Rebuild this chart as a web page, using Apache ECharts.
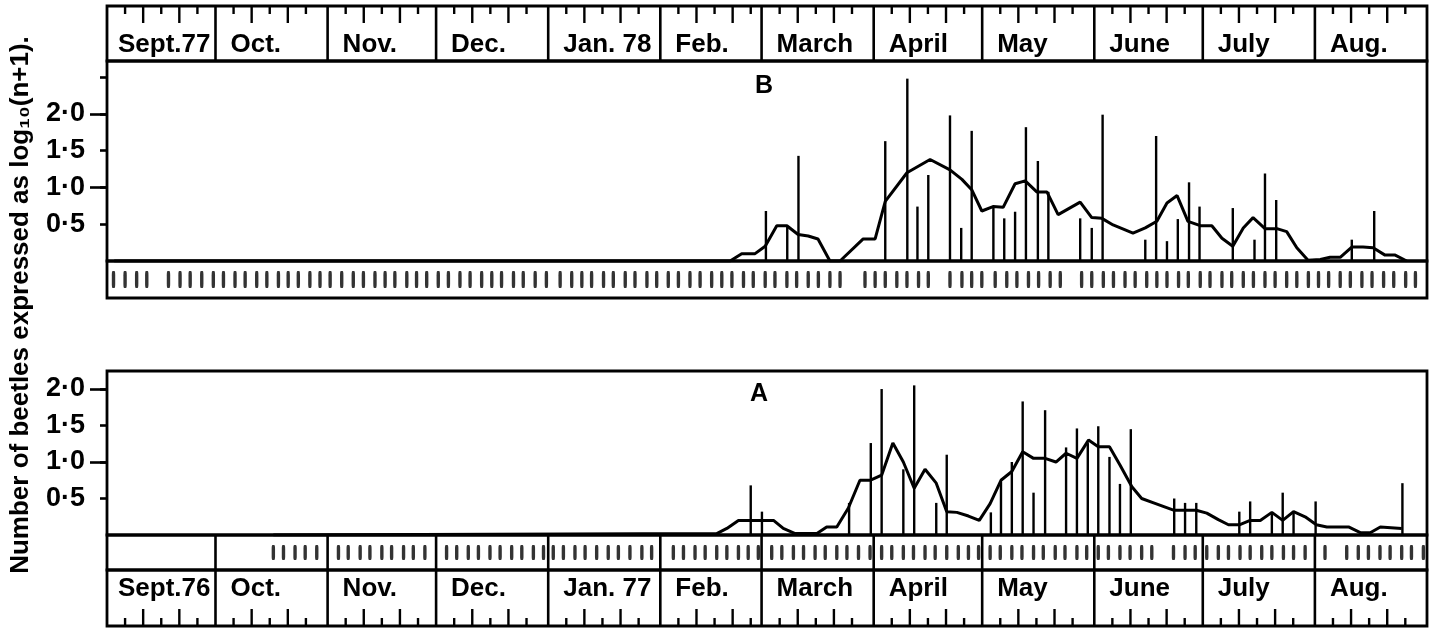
<!DOCTYPE html>
<html><head><meta charset="utf-8">
<script src="https://cdn.jsdelivr.net/npm/echarts@6/dist/echarts.min.js"></script>
<style>html,body{margin:0;padding:0;background:#fff}#c{width:1430px;height:628px}</style>
</head><body><div id="c"></div>
<script>
// ---------- data (x = days since 1 September; y = log10(n+1)) ----------
const MONTH_LABELS_B = ['Sept.77','Oct.','Nov.','Dec.','Jan. 78','Feb.','March','April','May','June','July','Aug.'];
const MONTH_LABELS_A = ['Sept.76','Oct.','Nov.','Dec.','Jan. 77','Feb.','March','April','May','June','July','Aug.'];
const MONTH_START_DAY = [0,30,61,91,122,153,181,212,242,273,303,334];
const MONTH_LENGTH = [30,31,30,31,31,28,31,30,31,30,31,31];
const MONTH_TICK_DAYS = [5,10,15,20,25];
const Y_TICKS_B = [0.5,1,1.5,2,2.5];
const Y_TICKS_A = [0.5,1,1.5,2];
const Y_MAJOR_TICKS = [1,2];
const Y_LABEL_VALUES = [0.5,1,1.5,2];
const Y_LABEL_TEXT = ['0·5','1·0','1·5','2·0'];

// Panel B (1977-78): running mean line
const B_MEAN = [[2,0],[172.3,0],[175.5,0.1],[179.2,0.1],[182,0.2],[185.2,0.48],[188,0.48],[191.1,0.36],[193.9,0.34],[196.6,0.3],[199.9,0],[202.7,0],[209.1,0.3],[212.4,0.3],[215.2,0.81],[221.2,1.2],[227.6,1.38],[233.1,1.24],[236.4,1.11],[239.1,0.97],[241.9,0.68],[245,0.74],[247.8,0.73],[251.1,1.05],[253.9,1.09],[257.1,0.94],[259.9,0.94],[263,0.63],[269.1,0.8],[272.3,0.59],[275.1,0.58],[278.2,0.49],[283.7,0.38],[287.1,0.45],[290.3,0.54],[293.1,0.79],[295.9,0.89],[298.9,0.54],[302.3,0.48],[305.5,0.48],[308.3,0.31],[311.3,0.2],[314.2,0.45],[316.9,0.59],[320.2,0.44],[323.5,0.44],[326.2,0.4],[329,0.18],[332.1,0.01],[335.5,0.02],[338.2,0.05],[341,0.05],[344.2,0.19],[347.3,0.19],[350.1,0.18],[353.4,0.08],[356.2,0.08],[359.4,0]];
// Panel B: individual catches
const B_SAMPLES = [[182.2,0.68],[188.1,0.48],[191.2,1.43],[215.2,1.63],[221.3,2.48],[224.1,0.74],[227.1,1.17],[233.1,1.98],[236.2,0.45],[239.1,1.77],[245.1,0.75],[248.1,0.58],[251.1,0.67],[254.1,1.82],[257.4,1.36],[260.3,0.94],[269.1,0.58],[272.3,0.45],[275.3,1.99],[287.1,0.29],[290.1,1.7],[293.1,0.27],[296.1,0.57],[299.2,1.07],[302.1,0.74],[311.3,0.72],[317.3,0.29],[320.2,1.19],[323.3,0.83],[344.2,0.29],[350.4,0.68]];
// Panel B: sampling days
const B_SAMPLE_DAYS = [1.8,5.0,8.2,11.0,17.0,20.2,23.0,26.2,29.4,32.2,35.4,38.2,41.4,44.2,47.4,50.1,52.9,56.1,58.9,61.7,64.9,68.1,70.9,74.1,76.9,79.6,82.9,85.6,88.4,91.6,94.4,97.6,100.4,103.6,106.4,109.1,112.4,115.1,118.4,121.5,125.3,128.5,131.3,134.0,137.3,140.0,143.3,146.0,149.3,152.0,155.2,158.0,161.2,164.0,167.2,170.0,172.8,176.0,178.7,182.0,184.7,188.0,190.7,193.9,196.7,199.9,202.7,209.6,212.4,215.2,218.4,221.2,224.4,227.1,233.1,236.4,239.1,241.9,245.6,248.8,251.6,254.8,257.6,260.8,263.6,269.5,272.3,275.5,278.3,281.5,284.3,287.5,290.3,293.1,296.3,299.0,302.3,305.0,308.3,311.0,314.2,317.0,320.2,323.0,326.2,329.0,332.2,335.0,337.8,341.0,343.8,347.0,349.8,353.0,355.8,359.1,361.8];

// Panel A (1976-77): running mean line
const A_MEAN = [[46,0],[168.6,0.02],[171.4,0.09],[174.6,0.2],[177.8,0.2],[181.1,0.2],[184.3,0.2],[187,0.09],[190.3,0.02],[196.3,0.02],[199,0.11],[201.8,0.11],[205,0.37],[208.2,0.75],[211,0.75],[214.2,0.82],[217.3,1.26],[220.2,1.0],[223.2,0.64],[226.2,0.9],[229.3,0.71],[232.2,0.32],[235,0.31],[238.2,0.26],[241.2,0.2],[244.2,0.43],[247.2,0.75],[250.2,0.87],[253.2,1.14],[256.2,1.05],[259.4,1.05],[262.4,1.0],[265.2,1.12],[268.2,1.05],[271.4,1.3],[274.1,1.21],[277.2,1.21],[280.1,0.96],[283.4,0.66],[286.1,0.5],[289.4,0.44],[294.9,0.34],[298.1,0.34],[301.2,0.34],[304.1,0.3],[307.3,0.21],[310.1,0.14],[313.1,0.14],[316.1,0.2],[318.9,0.2],[322.1,0.31],[325.1,0.2],[328.1,0.32],[331.3,0.25],[334.4,0.14],[337.3,0.11],[343.3,0.11],[346.7,0.03],[349.3,0.03],[352.1,0.11],[358,0.09]];
// Panel A: individual catches
const A_SAMPLES = [[178,0.68],[181.1,0.32],[205.2,0.44],[211.2,1.26],[214.2,2.0],[220.2,0.9],[223.2,2.05],[229.3,0.44],[232.2,1.1],[244.4,0.31],[247.2,0.73],[250.2,1.0],[253.2,1.83],[256.2,0.58],[259.4,1.71],[265.2,1.2],[268.2,1.46],[271.2,1.26],[274.1,1.49],[277.2,1.07],[280.1,0.7],[283.1,1.45],[295.1,0.5],[298.1,0.44],[301.2,0.44],[313.1,0.32],[316.1,0.46],[322.1,0.31],[325.1,0.58],[328.1,0.31],[334.2,0.46],[358.2,0.71]];
// Panel A: sampling days
const A_SAMPLE_DAYS = [46.0,48.8,52.0,54.8,58.0,64.0,66.7,70.0,72.7,76.0,78.7,82.0,84.7,87.9,93.9,96.7,99.9,102.7,105.9,108.7,111.9,114.7,117.9,120.7,123.4,126.2,129.4,132.2,135.4,138.6,141.4,144.6,147.9,150.6,156.6,159.4,162.6,165.4,168.6,171.4,174.6,177.3,180.1,183.8,186.6,189.8,192.6,195.8,198.6,201.8,204.6,207.8,211.0,214.2,217.0,220.2,223.0,226.2,229.0,232.2,235.4,238.2,241.0,244.2,247.0,250.2,253.0,256.2,258.9,262.2,264.9,268.2,270.9,274.1,276.9,280.1,282.9,286.1,288.9,294.9,298.1,300.9,304.1,307.3,310.1,313.3,316.1,319.3,322.1,325.3,328.1,331.3,336.8,342.8,346.0,348.8,352.0,354.8,358.0,360.7,364.0];

// ---------- chart ----------
const FONT = '"Liberation Sans", Arial, sans-serif';
const SEASON_END = MONTH_START_DAY[11] + MONTH_LENGTH[11];
const chart = echarts.init(document.getElementById('c'), null, {renderer:'canvas', width:1430, height:628});
const monthData = MONTH_START_DAY.map((s,i)=>[s, MONTH_LENGTH[i]]);

function monthRenderer(opts){
  return function(params, api){
    const i = params.dataIndex;
    const s = api.value(0), len = api.value(1);
    const top = api.coord([s,1])[1], bottom = api.coord([s,0])[1];
    const x0 = api.coord([s,0])[0];
    const ch = [];
    if (s > 0 && opts.boundaries) ch.push({type:'line', shape:{x1:x0,y1:top,x2:x0,y2:bottom}, style:{stroke:'#000', lineWidth:2.6}});
    if (opts.ticks) {
      MONTH_TICK_DAYS.forEach((d,k)=>{
        if (d >= len) return;
        const x = api.coord([s+d,0])[0];
        const L = (k % 2 === 1) ? 17 : 8;
        const y1 = opts.ticks === 'top' ? top : bottom - L;
        const y2 = opts.ticks === 'top' ? top + L : bottom;
        ch.push({type:'line', shape:{x1:x,y1:y1,x2:x,y2:y2}, style:{stroke:'#000', lineWidth:2.4}});
      });
    }
    if (opts.labels) ch.push({type:'text', style:{text:opts.labels[i], x:x0 + (i === 0 ? 11 : 15), y:top+opts.labelY, fill:'#000', font:'bold 26px '+FONT, align:'left', verticalAlign:'middle'}});
    return {type:'group', children:ch};
  };
}

const gridBase = {left:107, width:1320, show:true, borderColor:'#000', borderWidth:2.8, backgroundColor:'transparent', containLabel:false};
const grids = [
  Object.assign({top:6, height:55}, gridBase),
  Object.assign({top:61, height:200}, gridBase),
  Object.assign({top:261, height:37}, gridBase),
  Object.assign({top:371, height:164}, gridBase),
  Object.assign({top:535, height:35}, gridBase),
  Object.assign({top:570, height:56}, gridBase)
];
const xAxes = grids.map((g,i)=>({type:'value', gridIndex:i, min:0, max:SEASON_END, show:false}));
const hiddenY = gi => ({type:'value', gridIndex:gi, min:0, max:1, show:false});
function labelY(gi, max, ticks){
  return {type:'value', gridIndex:gi, position:'left', min:0, max:max,
    axisLine:{show:false}, splitLine:{show:false},
    axisTick:{show:true, customValues:ticks, length:7, lineStyle:{color:'#000', width:2.6}},
    axisLabel:{show:true, customValues:Y_LABEL_VALUES, margin:22, color:'#000', fontSize:27, fontWeight:'bold', fontFamily:FONT,
      formatter: v => { const k = Y_LABEL_VALUES.indexOf(v); return k >= 0 ? Y_LABEL_TEXT[k] : ''; }}};
}
function majorY(gi, max){
  return {type:'value', gridIndex:gi, position:'left', min:0, max:max,
    axisLine:{show:false}, splitLine:{show:false},
    axisTick:{show:true, customValues:Y_MAJOR_TICKS, length:17, lineStyle:{color:'#000', width:2.6}},
    axisLabel:{show:false}};
}
const yAxes = [
  hiddenY(0),            // 0 B header
  labelY(1, 2.72, Y_TICKS_B), // 1 B plot
  majorY(1, 2.72),       // 2
  hiddenY(2),            // 3 B tick row
  labelY(3, 2.247, Y_TICKS_A), // 4 A plot
  majorY(3, 2.247),      // 5
  hiddenY(4),            // 6 A tick row
  hiddenY(5)             // 7 A label row
];

const lineStyle = {color:'#000', width:3};
const series = [
  {type:'custom', xAxisIndex:0, yAxisIndex:0, data:monthData, renderItem:monthRenderer({boundaries:true, ticks:'top', labels:MONTH_LABELS_B, labelY:39}), silent:true},
  {type:'bar', xAxisIndex:1, yAxisIndex:1, data:B_SAMPLES, barWidth:2.4, itemStyle:{color:'#000'}},
  {type:'line', xAxisIndex:1, yAxisIndex:1, data:B_MEAN, symbol:'none', lineStyle:lineStyle, itemStyle:{color:'#000'}},
  {type:'scatter', xAxisIndex:2, yAxisIndex:3, data:B_SAMPLE_DAYS.map(d=>[d,0.5]), symbol:'roundRect', symbolSize:[3.4,17], itemStyle:{color:'#000'}},
  {type:'bar', xAxisIndex:3, yAxisIndex:4, data:A_SAMPLES, barWidth:2.4, itemStyle:{color:'#000'}},
  {type:'line', xAxisIndex:3, yAxisIndex:4, data:A_MEAN, symbol:'none', lineStyle:lineStyle, itemStyle:{color:'#000'}},
  {type:'custom', xAxisIndex:4, yAxisIndex:6, data:monthData, renderItem:monthRenderer({boundaries:true}), silent:true},
  {type:'scatter', xAxisIndex:4, yAxisIndex:6, data:A_SAMPLE_DAYS.map(d=>[d,0.5]), symbol:'roundRect', symbolSize:[3.4,15], itemStyle:{color:'#000'}},
  {type:'custom', xAxisIndex:5, yAxisIndex:7, data:monthData, renderItem:monthRenderer({boundaries:true, ticks:'bottom', labels:MONTH_LABELS_A, labelY:19}), silent:true}
];

chart.setOption({
  animation:false,
  backgroundColor:'#fff',
  grid:grids, xAxis:xAxes, yAxis:yAxes, series:series,
  graphic:[
    {type:'text', x:764, y:86, style:{text:'B', font:'bold 25px '+FONT, fill:'#000', align:'center', verticalAlign:'middle'}},
    {type:'text', x:759, y:394, style:{text:'A', font:'bold 25px '+FONT, fill:'#000', align:'center', verticalAlign:'middle'}},
    {type:'text', x:21, y:305, rotation:Math.PI/2, style:{text:'Number of beetles expressed as log₁₀(n+1).', font:'bold 26px '+FONT, fill:'#000', align:'center', verticalAlign:'middle'}}
  ]
});
</script></body></html>
